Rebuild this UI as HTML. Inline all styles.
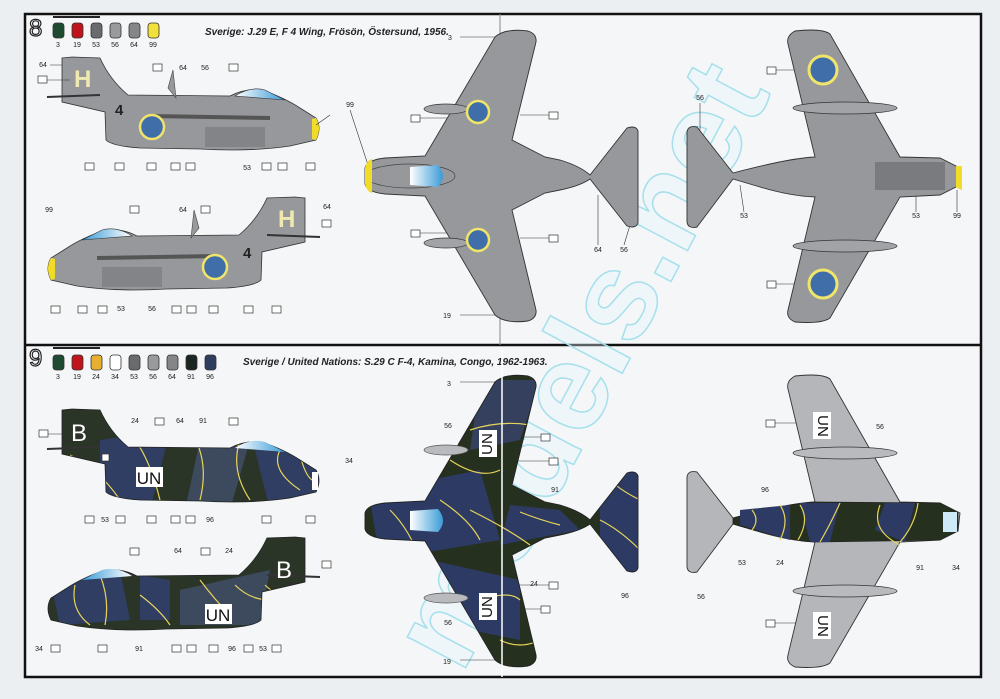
<!DOCTYPE html>
<html><head><meta charset="utf-8"><style>
html,body{margin:0;padding:0;background:#eceff2;}
svg{display:block;}
text{font-family:"Liberation Sans",sans-serif;}
</style></head><body>
<svg width="1000" height="699" viewBox="0 0 1000 699" xmlns="http://www.w3.org/2000/svg">
<defs>
 <path id="side" d="M62,58 L72,57 L100,58 Q110,80 128,95 L230,96 Q245,88 262,90 Q285,98 300,108 L316,118 Q322,128 316,140 L290,146 Q250,152 200,149 L140,148 Q112,146 106,140 L105,112 L62,102 Z"/>
 <path id="top" d="M365,168 Q367,160 385,158 L425,156 L495,37 Q505,28 528,31 Q537,34 536,42 L512,140 L545,157 L560,160 Q580,166 590,175 L627,128 Q636,125 638,131 L638,223 Q636,229 627,226 L590,179 Q580,186 560,190 L545,193 L512,210 L536,310 Q537,318 528,321 Q505,324 495,315 L425,196 L385,194 Q367,192 365,184 Z"/>
 <path id="bot" d="M960,168 L958,186 L940,195 L900,197 L830,318 Q822,324 795,322 Q786,318 788,310 L815,197 Q790,196 760,187 L733,179 L697,227 Q688,229 687,222 L687,132 Q688,125 697,127 L733,173 Q790,158 815,157 L788,44 Q786,36 795,31 Q822,28 830,34 L900,157 L940,158 Z"/>
 <clipPath id="cs1"><use href="#side" transform="translate(0,352)"/></clipPath>
 <clipPath id="cs2"><use href="#side" transform="translate(367,480) scale(-1,1)"/></clipPath>
 <clipPath id="ct"><use href="#top" transform="translate(0,345)"/></clipPath>
 <linearGradient id="can" x1="0" x2="1"><stop offset="0" stop-color="#fff"/><stop offset="1" stop-color="#3a9bd6"/></linearGradient>
</defs>
<rect width="1000" height="699" fill="#eceff2"/>
<rect x="25" y="14" width="956" height="663" fill="#f4f6f8" stroke="#111" stroke-width="2.5"/>
<line x1="25" y1="345" x2="981" y2="345" stroke="#111" stroke-width="2.5"/>
<line x1="500" y1="14" x2="500" y2="345" stroke="#888" stroke-width="1"/>

<!-- watermark -->
<text x="590" y="400" font-size="125" font-weight="bold" fill="#e6f7fb" fill-opacity="0.35" stroke="#a6e0ec" stroke-width="1.5" text-anchor="middle" transform="rotate(-62 590 370)">models.net</text>

<!-- headers -->
<g>
<text x="29" y="36" font-size="24" fill="#fff" stroke="#222" stroke-width="1.2">8</text>
<line x1="53" y1="17" x2="100" y2="17" stroke="#222" stroke-width="2"/>
<g stroke="#333" stroke-width="0.8">
<rect x="53" y="23" width="11" height="15" rx="3" fill="#1e4a32"/><rect x="72" y="23" width="11" height="15" rx="3" fill="#c0141c"/><rect x="91" y="23" width="11" height="15" rx="3" fill="#6a6b6d"/><rect x="110" y="23" width="11" height="15" rx="3" fill="#999a9c"/><rect x="129" y="23" width="11" height="15" rx="3" fill="#858688"/><rect x="148" y="23" width="11" height="15" rx="3" fill="#f4e03a"/></g>
<g font-size="7" text-anchor="middle" fill="#222"><text x="58" y="47">3</text><text x="77" y="47">19</text><text x="96" y="47">53</text><text x="115" y="47">56</text><text x="134" y="47">64</text><text x="153" y="47">99</text></g>
<text x="205" y="35" font-size="10" font-style="italic" font-weight="bold" fill="#222">Sverige: J.29 E,  F 4 Wing, Frösön, Östersund, 1956.</text>
</g>
<g>
<text x="29" y="366" font-size="24" fill="#fff" stroke="#222" stroke-width="1.2">9</text>
<line x1="53" y1="348" x2="100" y2="348" stroke="#222" stroke-width="2"/>
<g stroke="#333" stroke-width="0.8">
<rect x="53" y="355" width="11" height="15" rx="3" fill="#1e4a32"/><rect x="72" y="355" width="11" height="15" rx="3" fill="#c0141c"/><rect x="91" y="355" width="11" height="15" rx="3" fill="#e8b030"/><rect x="110" y="355" width="11" height="15" rx="3" fill="#fff"/><rect x="129" y="355" width="11" height="15" rx="3" fill="#6a6b6d"/><rect x="148" y="355" width="11" height="15" rx="3" fill="#999a9c"/><rect x="167" y="355" width="11" height="15" rx="3" fill="#858688"/><rect x="186" y="355" width="11" height="15" rx="3" fill="#1c2620"/><rect x="205" y="355" width="11" height="15" rx="3" fill="#2f3e5c"/></g>
<g font-size="7" text-anchor="middle" fill="#222"><text x="58" y="379">3</text><text x="77" y="379">19</text><text x="96" y="379">24</text><text x="115" y="379">34</text><text x="134" y="379">53</text><text x="153" y="379">56</text><text x="172" y="379">64</text><text x="191" y="379">91</text><text x="210" y="379">96</text></g>
<text x="243" y="365" font-size="10" font-style="italic" font-weight="bold" fill="#222">Sverige / United Nations: S.29 C F-4, Kamina, Congo, 1962-1963.</text>
</g>

<!-- ROW 1 side views -->
<g>
<use href="#side" fill="#97989b" stroke="#333" stroke-width="0.8"/>
<line x1="47" y1="97" x2="100" y2="95" stroke="#333" stroke-width="2"/>
<path d="M235,96 Q250,86 265,90 L285,100 Z" fill="url(#can)" stroke="#333" stroke-width="0.6"/>
<path d="M316,118 Q322,128 316,140 L312,139 L312,119 Z" fill="#f2dc2a"/>
<rect x="205" y="127" width="60" height="20" fill="#838487"/>
<path d="M150,116 L270,118" stroke="#555" stroke-width="4" fill="none"/>
<circle cx="152" cy="127" r="12" fill="#3f6ea8" stroke="#f1e46a" stroke-width="2.5"/>
<text x="74" y="87" font-size="24" font-weight="bold" fill="#efe9b0">H</text>
<text x="115" y="115" font-size="15" font-weight="bold" fill="#222">4</text>
<path d="M168,88 L173,70 L176,98 Z" fill="#999" stroke="#444" stroke-width="0.6"/>
</g>
<g transform="translate(367,140) scale(-1,1)">
<use href="#side" fill="#97989b" stroke="#333" stroke-width="0.8"/>
<line x1="47" y1="97" x2="100" y2="95" stroke="#333" stroke-width="2"/>
<path d="M235,96 Q250,86 265,90 L285,100 Z" fill="url(#can)" stroke="#333" stroke-width="0.6"/>
<path d="M316,118 Q322,128 316,140 L312,139 L312,119 Z" fill="#f2dc2a"/>
<rect x="205" y="127" width="60" height="20" fill="#838487"/>
<path d="M150,116 L270,118" stroke="#555" stroke-width="4" fill="none"/>
<circle cx="152" cy="127" r="12" fill="#3f6ea8" stroke="#f1e46a" stroke-width="2.5"/>
<path d="M168,88 L173,70 L176,98 Z" fill="#999" stroke="#444" stroke-width="0.6"/>
</g>
<text x="278" y="227" font-size="24" font-weight="bold" fill="#efe9b0">H</text>
<text x="243" y="258" font-size="15" font-weight="bold" fill="#222">4</text>

<!-- row1 labels -->
<g font-size="7" fill="#222" text-anchor="middle">
<text x="43" y="67">64</text><text x="183" y="70">64</text><text x="205" y="70">56</text><text x="350" y="107">99</text>
<text x="247" y="170">53</text><text x="49" y="212">99</text><text x="183" y="212">64</text><text x="327" y="209">64</text>
<text x="121" y="311">53</text><text x="152" y="311">56</text><text x="450" y="40">3</text><text x="447" y="318">19</text>
<text x="598" y="252">64</text><text x="624" y="252">56</text><text x="700" y="100">56</text><text x="744" y="218">53</text><text x="916" y="218">53</text><text x="957" y="218">99</text>
</g>
<g fill="#fff" stroke="#333" stroke-width="0.7">
<rect x="38" y="76" width="9" height="7"/><rect x="153" y="64" width="9" height="7"/><rect x="229" y="64" width="9" height="7"/>
<rect x="85" y="163" width="9" height="7"/><rect x="115" y="163" width="9" height="7"/><rect x="147" y="163" width="9" height="7"/><rect x="171" y="163" width="9" height="7"/><rect x="186" y="163" width="9" height="7"/><rect x="262" y="163" width="9" height="7"/><rect x="278" y="163" width="9" height="7"/><rect x="306" y="163" width="9" height="7"/>
<rect x="51" y="306" width="9" height="7"/><rect x="78" y="306" width="9" height="7"/><rect x="98" y="306" width="9" height="7"/><rect x="172" y="306" width="9" height="7"/><rect x="187" y="306" width="9" height="7"/><rect x="209" y="306" width="9" height="7"/><rect x="244" y="306" width="9" height="7"/><rect x="272" y="306" width="9" height="7"/>
<rect x="130" y="206" width="9" height="7"/><rect x="201" y="206" width="9" height="7"/><rect x="322" y="220" width="9" height="7"/>
<rect x="411" y="115" width="9" height="7"/><rect x="411" y="230" width="9" height="7"/><rect x="549" y="112" width="9" height="7"/><rect x="549" y="235" width="9" height="7"/>
<rect x="767" y="67" width="9" height="7"/><rect x="767" y="281" width="9" height="7"/>
</g>
<g stroke="#333" stroke-width="0.6" fill="none">
<path d="M47,80 L70,80 M50,65 L62,65 M420,118 L470,118 M420,233 L470,233 M460,37 L495,37 M460,315 L495,315 M520,115 L549,115 M520,238 L549,238 M776,70 L810,70 M776,284 L810,284 M330,115 L316,125 M350,110 L368,165 M598,245 L598,195 M624,245 L630,225 M700,103 L700,130 M744,212 L740,185 M916,212 L916,195 M957,212 L957,190"/>
</g>

<!-- ROW1 top view -->
<use href="#top" fill="#97989b" stroke="#333" stroke-width="0.9"/>
<ellipse cx="446" cy="109" rx="22" ry="5" fill="#a2a3a6" stroke="#333" stroke-width="0.7"/>
<ellipse cx="446" cy="243" rx="22" ry="5" fill="#a2a3a6" stroke="#333" stroke-width="0.7"/>
<ellipse cx="410" cy="176" rx="45" ry="12" fill="none" stroke="#444" stroke-width="0.7"/>
<path d="M410,167 L438,165 Q448,176 438,187 L410,185 Z" fill="url(#can)"/>
<path d="M365,168 Q367,160 372,159 L372,193 Q367,192 365,184 Z" fill="#f2dc2a"/>
<circle cx="478" cy="112" r="11" fill="#3f6ea8" stroke="#f1e46a" stroke-width="2.5"/>
<circle cx="478" cy="240" r="11" fill="#3f6ea8" stroke="#f1e46a" stroke-width="2.5"/>

<!-- ROW1 bottom view -->
<use href="#bot" fill="#97989b" stroke="#333" stroke-width="0.9"/>
<ellipse cx="845" cy="108" rx="52" ry="6" fill="#a2a3a6" stroke="#333" stroke-width="0.7"/>
<ellipse cx="845" cy="246" rx="52" ry="6" fill="#a2a3a6" stroke="#333" stroke-width="0.7"/>
<rect x="875" y="162" width="70" height="28" fill="#7a7b7e"/>
<path d="M958,168 L960,168 L960,187 L958,186 Z" fill="#f2dc2a" stroke="#f2dc2a" stroke-width="4"/>
<circle cx="823" cy="70" r="14" fill="#3f6ea8" stroke="#f1e46a" stroke-width="3"/>
<circle cx="823" cy="284" r="14" fill="#3f6ea8" stroke="#f1e46a" stroke-width="3"/>

<!-- ROW 2 side views (camo) -->
<g>
<use href="#side" transform="translate(0,352)" fill="#2a3528"/>
<g clip-path="url(#cs1)">
<path d="M100,440 L170,430 L150,510 L100,510 Z" fill="#2f3e62"/>
<path d="M200,440 L250,440 L230,510 L185,510 Z" fill="#3d4a5e"/>
<path d="M255,450 L320,440 L320,510 L270,510 Z" fill="#2f3e62"/>
<g stroke="#e8d45a" stroke-width="1.2" fill="none"><path d="M70,455 Q100,470 120,500 M135,440 Q150,460 160,500 M190,430 Q210,460 200,500 M240,440 Q230,470 250,500 M280,450 Q270,470 300,490 M300,455 Q305,475 312,480"/></g>
</g>
<use href="#side" transform="translate(0,352)" fill="none" stroke="#222" stroke-width="0.8"/>
<line x1="47" y1="449" x2="100" y2="447" stroke="#333" stroke-width="2"/>
<path d="M235,448 Q250,438 265,442 L285,452 Z" fill="url(#can)"/>
<path d="M318,472 L318,490 L312,490 L312,472 Z" fill="#fff"/>
<rect x="136" y="467" width="27" height="20" fill="#fff"/>
<text x="149" y="484" font-size="17" text-anchor="middle" fill="#111">UN</text>
<text x="71" y="441" font-size="24" fill="#fff">B</text>
</g>
<g transform="translate(367,480) scale(-1,1)">
<use href="#side" fill="#2a3528"/>
</g>
<g clip-path="url(#cs2)">
<path d="M50,580 L120,570 L130,620 L60,625 Z" fill="#2f3e62"/>
<path d="M180,590 L270,570 L260,625 L180,625 Z" fill="#3d4a5e"/>
<path d="M140,575 L170,580 L170,620 L140,620 Z" fill="#2f3e62"/>
<g stroke="#e8d45a" stroke-width="1.2" fill="none"><path d="M75,585 Q70,610 90,625 M100,575 Q110,600 105,625 M140,595 Q160,610 170,625 M200,580 Q215,600 230,615 M235,585 Q250,600 270,600 M265,585 Q280,600 300,595"/></g>
</g>
<g transform="translate(367,480) scale(-1,1)">
<use href="#side" fill="none" stroke="#222" stroke-width="0.8"/>
<line x1="47" y1="97" x2="100" y2="95" stroke="#333" stroke-width="2"/>
<path d="M235,96 Q250,86 265,90 L285,100 Z" fill="url(#can)"/>
</g>
<rect x="205" y="604" width="27" height="20" fill="#fff"/>
<text x="218" y="621" font-size="17" text-anchor="middle" fill="#111">UN</text>
<text x="276" y="578" font-size="24" fill="#fff">B</text>

<!-- row2 labels -->
<g font-size="7" fill="#222" text-anchor="middle">
<text x="135" y="423">24</text><text x="180" y="423">64</text><text x="203" y="423">91</text><text x="349" y="463">34</text>
<text x="105" y="522">53</text><text x="210" y="522">96</text><text x="178" y="553">64</text><text x="229" y="553">24</text>
<text x="39" y="651">34</text><text x="139" y="651">91</text><text x="232" y="651">96</text><text x="263" y="651">53</text>
<text x="449" y="386">3</text><text x="448" y="428">56</text><text x="448" y="625">56</text><text x="447" y="664">19</text>
<text x="555" y="492">91</text><text x="534" y="586">24</text><text x="625" y="598">96</text>
<text x="765" y="492">96</text><text x="742" y="565">53</text><text x="780" y="565">24</text><text x="920" y="570">91</text><text x="956" y="570">34</text>
<text x="880" y="429">56</text><text x="701" y="599">56</text>
</g>
<g fill="#fff" stroke="#333" stroke-width="0.7">
<rect x="39" y="430" width="9" height="7"/><rect x="155" y="418" width="9" height="7"/><rect x="229" y="418" width="9" height="7"/><rect x="102" y="454" width="7" height="7"/>
<rect x="85" y="516" width="9" height="7"/><rect x="116" y="516" width="9" height="7"/><rect x="147" y="516" width="9" height="7"/><rect x="171" y="516" width="9" height="7"/><rect x="186" y="516" width="9" height="7"/><rect x="262" y="516" width="9" height="7"/><rect x="306" y="516" width="9" height="7"/>
<rect x="130" y="548" width="9" height="7"/><rect x="201" y="548" width="9" height="7"/><rect x="322" y="561" width="9" height="7"/>
<rect x="51" y="645" width="9" height="7"/><rect x="98" y="645" width="9" height="7"/><rect x="172" y="645" width="9" height="7"/><rect x="187" y="645" width="9" height="7"/><rect x="209" y="645" width="9" height="7"/><rect x="244" y="645" width="9" height="7"/><rect x="272" y="645" width="9" height="7"/>
<rect x="541" y="434" width="9" height="7"/><rect x="549" y="458" width="9" height="7"/><rect x="549" y="582" width="9" height="7"/><rect x="541" y="606" width="9" height="7"/>
<rect x="766" y="420" width="9" height="7"/><rect x="766" y="620" width="9" height="7"/>
</g>
<g stroke="#333" stroke-width="0.6" fill="none">
<path d="M48,434 L70,434 M460,382 L495,382 M460,660 L495,660 M510,437 L541,437 M515,461 L549,461 M515,585 L549,585 M510,609 L541,609 M775,423 L815,423 M775,623 L815,623"/>
</g>

<!-- ROW2 top view camo -->
<use href="#top" transform="translate(0,345)" fill="#26301f"/>
<g clip-path="url(#ct)">
<path d="M480,380 L540,380 L520,440 L470,450 Z" fill="#34405e"/>
<path d="M430,480 L480,470 L500,540 L380,560 L370,500 Z" fill="#2d3b64"/>
<path d="M510,505 L560,510 L580,530 L500,545 Z" fill="#2d3b64"/>
<path d="M600,470 L640,470 L640,580 L600,560 Z" fill="#2d3b64"/>
<path d="M430,560 L520,580 L520,640 L470,630 Z" fill="#2d3b64"/>
<g stroke="#e8d45a" stroke-width="1.2" fill="none">
<path d="M470,430 Q500,420 530,425 M450,460 Q480,480 500,470 M440,500 Q470,520 480,540 M470,510 Q510,530 530,545 M390,510 Q410,530 420,560 M430,560 Q460,600 470,620 M480,600 Q510,590 520,600 M500,640 Q520,650 540,640 M610,480 Q620,490 640,500 M600,520 Q620,530 640,550 M520,512 Q540,520 560,525"/></g>
</g>
<use href="#top" transform="translate(0,345)" fill="none" stroke="#222" stroke-width="0.9"/>
<ellipse cx="446" cy="450" rx="22" ry="5" fill="#b8babd" stroke="#555" stroke-width="0.7"/>
<ellipse cx="446" cy="598" rx="22" ry="5" fill="#b8babd" stroke="#555" stroke-width="0.7"/>
<path d="M410,511 L438,509 Q448,521 438,532 L410,530 Z" fill="url(#can)"/>
<rect x="479" y="430" width="18" height="27" fill="#fff"/><text x="488" y="444" font-size="15" fill="#111" text-anchor="middle" dominant-baseline="middle" transform="rotate(-90 488 444)">UN</text>
<rect x="479" y="593" width="18" height="27" fill="#fff"/><text x="488" y="607" font-size="15" fill="#111" text-anchor="middle" dominant-baseline="middle" transform="rotate(-90 488 607)">UN</text>
<line x1="502" y1="350" x2="502" y2="677" stroke="#fff" stroke-width="1.5"/>

<!-- ROW2 bottom view -->
<use href="#bot" transform="translate(0,345)" fill="#b4b6b9" stroke="#333" stroke-width="0.9"/>
<path d="M733,518 Q790,503 815,502 L940,503 L958,513 L958,531 L940,540 L815,542 Q790,541 733,524 Z" fill="#26301f" stroke="#222" stroke-width="0.8"/>
<path d="M740,510 L790,505 L790,540 L740,525 Z" fill="#2d3b64"/>
<path d="M800,503 L840,503 L830,542 L810,542 Z" fill="#2d3b64"/>
<path d="M885,503 L915,503 L905,542 L875,530 Z" fill="#2d3b64"/>
<g stroke="#e8d45a" stroke-width="1.2" fill="none"><path d="M752,510 Q760,520 752,530 M780,505 Q790,520 780,540 M800,505 Q810,520 798,540 M840,503 Q830,525 820,542 M880,505 Q870,530 900,545 M918,503 Q915,525 900,542"/></g>
<rect x="943" y="512" width="14" height="20" fill="#cfeaf7"/>
<ellipse cx="845" cy="453" rx="52" ry="6" fill="#b8babd" stroke="#333" stroke-width="0.7"/>
<ellipse cx="845" cy="591" rx="52" ry="6" fill="#b8babd" stroke="#333" stroke-width="0.7"/>
<rect x="813" y="412" width="18" height="27" fill="#fff"/><text x="822" y="426" font-size="15" fill="#111" text-anchor="middle" dominant-baseline="middle" transform="rotate(90 822 426)">UN</text>
<rect x="813" y="612" width="18" height="27" fill="#fff"/><text x="822" y="626" font-size="15" fill="#111" text-anchor="middle" dominant-baseline="middle" transform="rotate(90 822 626)">UN</text>
</svg>
</body></html>
